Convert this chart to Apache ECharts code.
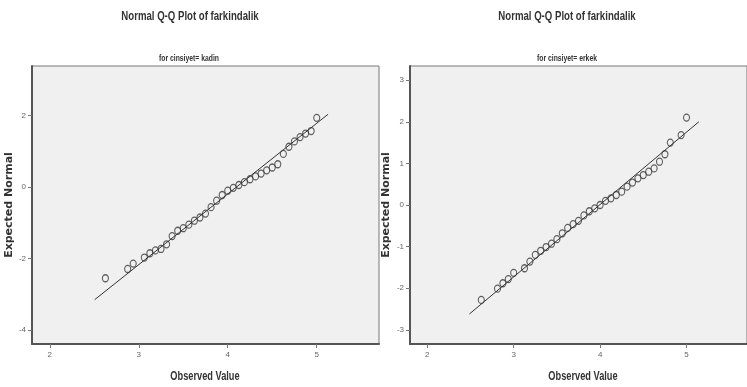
<!DOCTYPE html>
<html>
<head>
<meta charset="utf-8">
<script src="https://cdn.jsdelivr.net/npm/echarts@6/dist/echarts.min.js"></script>
<style>
html,body{margin:0;padding:0;background:#fff;}
#chart{width:747px;height:387px;}
</style>
</head>
<body>
<div id="chart"></div>
<script>
// Panel 1: cinsiyet = kadin
var kadinObserved = [2.625,2.875,2.9375,3.0625,3.125,3.1875,3.25,3.3125,3.375,3.4375,3.5,3.5625,3.625,3.6875,3.75,3.8125,3.875,3.9375,4.0,4.0625,4.125,4.1875,4.25,4.3125,4.375,4.4375,4.5,4.5625,4.625,4.6875,4.75,4.8125,4.875,4.9375,5.0];
var kadinExpected = [-2.55,-2.29,-2.14,-1.97,-1.85,-1.77,-1.73,-1.60,-1.37,-1.22,-1.15,-1.05,-0.94,-0.85,-0.74,-0.56,-0.38,-0.22,-0.10,-0.02,0.06,0.14,0.22,0.30,0.38,0.47,0.55,0.64,0.93,1.13,1.28,1.40,1.50,1.57,1.94];
var kadinLineX = [2.504, 5.128];
var kadinLineY = [-3.15, 2.04];

// Panel 2: cinsiyet = erkek
var erkekObserved = [2.625,2.8125,2.875,2.9375,3.0,3.125,3.1875,3.25,3.3125,3.375,3.4375,3.5,3.5625,3.625,3.6875,3.75,3.8125,3.875,3.9375,4.0,4.0625,4.125,4.1875,4.25,4.3125,4.375,4.4375,4.5,4.5625,4.625,4.6875,4.75,4.8125,4.9375,5.0];
var erkekExpected = [-2.28,-2.01,-1.88,-1.78,-1.63,-1.52,-1.36,-1.20,-1.10,-1.01,-0.93,-0.82,-0.68,-0.55,-0.46,-0.38,-0.25,-0.15,-0.08,0.0,0.10,0.16,0.24,0.32,0.44,0.54,0.64,0.72,0.80,0.88,1.04,1.22,1.50,1.68,2.10];
var erkekLineX = [2.487, 5.143];
var erkekLineY = [-2.62, 2.0];

var xTicks = [2, 3, 4, 5];
var yTicksKadin = [-4, -2, 0, 2];
var yTicksErkek = [-3, -2, -1, 0, 1, 2, 3];

var mainTitle = 'Normal Q-Q Plot of farkindalik';
var subTitles = ['for cinsiyet= kadin', 'for cinsiyet= erkek'];
var xName = 'Observed Value';
var yName = 'Expected Normal';

function zip(a, b) { return a.map(function (v, i) { return [v, b[i]]; }); }

var sans = '"Liberation Sans", Arial, sans-serif';

function xAxisDef(gi) {
  return {
    type: 'value', gridIndex: gi, min: 1.8, max: 5.7,
    axisLine: { show: true, onZero: false, lineStyle: { color: '#555', width: 2 } },
    axisTick: { show: true, length: 4, customValues: xTicks, lineStyle: { color: '#777' } },
    axisLabel: { customValues: xTicks, fontSize: 8, color: '#666', margin: 7, fontFamily: sans },
    splitLine: { show: false }
  };
}
function yAxisDef(gi, mn, mx, ticks, gap) {
  return {
    type: 'value', gridIndex: gi, min: mn, max: mx,
    name: yName, nameLocation: 'middle', nameGap: gap, nameRotate: 90,
    nameTextStyle: { fontFamily: '"DejaVu Sans", Verdana, sans-serif', fontWeight: 'bold', fontSize: 11, color: '#333' },
    axisLine: { show: true, onZero: false, lineStyle: { color: '#555', width: 2 } },
    axisTick: { show: true, length: 4, customValues: ticks, lineStyle: { color: '#777' } },
    axisLabel: { customValues: ticks, fontSize: 8, color: '#666', margin: 6, fontFamily: sans },
    splitLine: { show: false }
  };
}

function label(text, x, y, size, sx) {
  return { type: 'text', x: x, y: y, scaleX: sx, silent: true, z: 100,
    style: { text: text, font: 'bold ' + size + 'px ' + sans, fill: '#333', align: 'center', verticalAlign: 'middle' } };
}

var pointStyle = { color: 'rgba(0,0,0,0)', borderColor: '#3a3a3a', borderWidth: 1.2 };

var option = {
  animation: false,
  backgroundColor: '#ffffff',
  graphic: [
    label(mainTitle, 190, 16, 13, 0.74),
    label(mainTitle, 567, 16, 13, 0.74),
    label(subTitles[0], 189, 59, 8.5, 0.8),
    label(subTitles[1], 567, 59, 8.5, 0.8),
    label(xName, 205, 376, 13, 0.71),
    label(xName, 583, 376, 13, 0.71)
  ],
  grid: [
    { left: 32, top: 66, width: 347, height: 278, show: true, backgroundColor: '#f0f0f0', borderColor: '#777', borderWidth: 1 },
    { left: 410, top: 66, width: 347, height: 278, show: true, backgroundColor: '#f0f0f0', borderColor: '#777', borderWidth: 1 }
  ],
  xAxis: [xAxisDef(0), xAxisDef(1)],
  yAxis: [
    yAxisDef(0, -4.39, 3.39, yTicksKadin, 17),
    yAxisDef(1, -3.34, 3.34, yTicksErkek, 18)
  ],
  series: [
    { type: 'line', xAxisIndex: 0, yAxisIndex: 0, data: zip(kadinLineX, kadinLineY), symbol: 'none',
      lineStyle: { color: '#333', width: 1 }, silent: true },
    { type: 'scatter', xAxisIndex: 0, yAxisIndex: 0, data: zip(kadinObserved, kadinExpected),
      symbol: 'circle', symbolSize: [6, 7], itemStyle: pointStyle },
    { type: 'line', xAxisIndex: 1, yAxisIndex: 1, data: zip(erkekLineX, erkekLineY), symbol: 'none',
      lineStyle: { color: '#333', width: 1 }, silent: true },
    { type: 'scatter', xAxisIndex: 1, yAxisIndex: 1, data: zip(erkekObserved, erkekExpected),
      symbol: 'circle', symbolSize: [6, 7], itemStyle: pointStyle }
  ]
};

var chart = echarts.init(document.getElementById('chart'), null, { renderer: 'canvas' });
chart.setOption(option);
</script>
</body>
</html>
